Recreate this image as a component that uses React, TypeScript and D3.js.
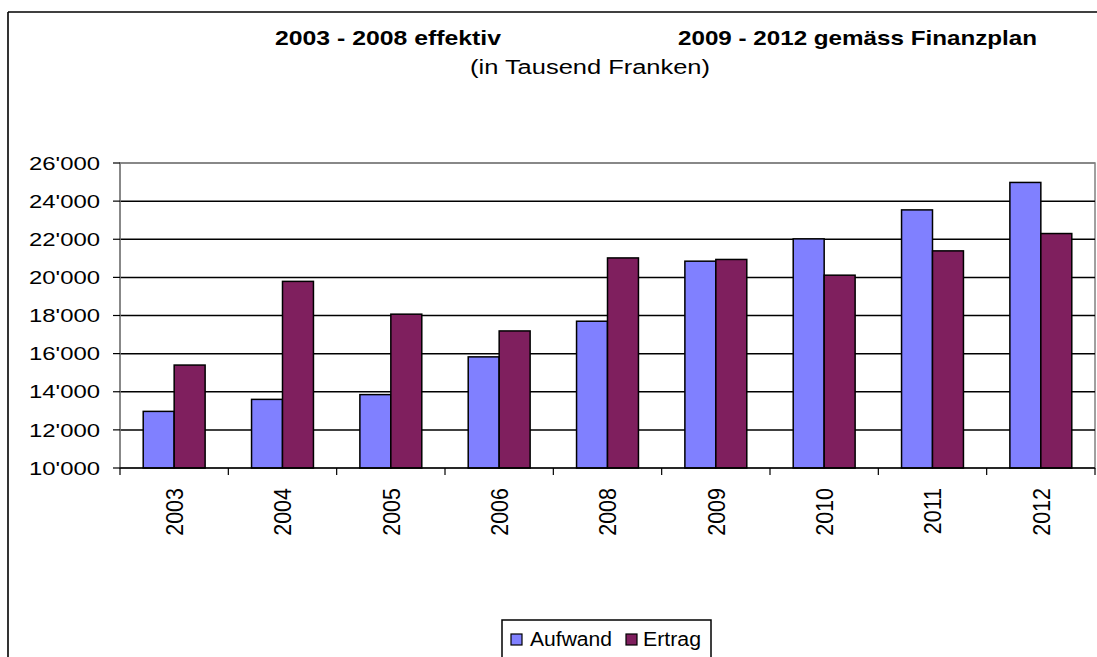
import React from "react";
import * as d3 from "d3";

const categories = ["2003", "2004", "2005", "2006", "2008", "2009", "2010", "2011", "2012"];
const seriesNames = ["Aufwand", "Ertrag"];
const aufwand = [12970, 13600, 13850, 15830, 17700, 20850, 22020, 23540, 24980];
const ertrag = [15400, 19790, 18070, 17190, 21020, 20940, 20115, 21390, 22300];
const yTicks = [10000, 12000, 14000, 16000, 18000, 20000, 22000, 24000, 26000];
const colors = ["#8080FF", "#7F1F5E"];

const W = 1097;
const H = 657;
const FONT = "'Liberation Sans', Arial, Helvetica, sans-serif";

export default function App() {
  const left = 120, right = 1095, top = 163, bottom = 468;
  const x0 = d3.scaleBand<string>().domain(categories).range([left, right]).paddingInner(0).paddingOuter(0);
  const x1 = d3.scaleBand<string>().domain(seriesNames).range([0, x0.bandwidth()]).paddingInner(0).paddingOuter(0.75);
  const y = d3.scaleLinear().domain([10000, 26000]).range([bottom, top]);
  const values = [aufwand, ertrag];
  const fmt = (v: number) => d3.format(",")(v).replace(/,/g, "'");

  return (
    <svg width={W} height={H} style={{ position: "absolute", left: 0, top: 0, background: "#fff" }} fontFamily={FONT}>
      <rect x={0} y={0} width={W} height={H} fill="#fff" />
      {/* outer chart border */}
      <line x1={8} y1={12} x2={W} y2={12} stroke="#000" strokeWidth={1.6} />
      <line x1={8} y1={12} x2={8} y2={H} stroke="#000" strokeWidth={1.6} />

      {/* titles */}
      <text x={275} y={45} fontSize={20.5} fontWeight="bold" textLength={226} lengthAdjust="spacingAndGlyphs">2003 - 2008 effektiv</text>
      <text x={678} y={45} fontSize={20.5} fontWeight="bold" textLength={359} lengthAdjust="spacingAndGlyphs">2009 - 2012 gemäss Finanzplan</text>
      <text x={470} y={74} fontSize={20} textLength={240} lengthAdjust="spacingAndGlyphs">(in Tausend Franken)</text>

      {/* plot area border */}
      <rect x={left} y={top} width={right - left} height={bottom - top} fill="none" stroke="#808080" strokeWidth={1.5} />

      {/* gridlines */}
      {yTicks.slice(1).map((t) => (
        <line key={t} x1={left} x2={right} y1={y(t)} y2={y(t)} stroke={t === 26000 ? "#808080" : "#000"} strokeWidth={1.5} />
      ))}

      {/* bars */}
      {categories.map((c, i) => (
        <g key={c} transform={`translate(${x0(c)},0)`}>
          {seriesNames.map((s, j) => (
            <rect
              key={s}
              x={x1(s)}
              y={y(values[j][i])}
              width={x1.bandwidth()}
              height={y(10000) - y(values[j][i])}
              fill={colors[j]}
              stroke="#000"
              strokeWidth={1.5}
            />
          ))}
        </g>
      ))}

      {/* axes */}
      <line x1={left} x2={left} y1={top} y2={bottom} stroke="#808080" strokeWidth={1.5} />
      <line x1={left} x2={right} y1={bottom} y2={bottom} stroke="#000" strokeWidth={1.5} />
      {yTicks.map((t) => (
        <g key={t}>
          <line x1={left - 7} x2={left} y1={y(t)} y2={y(t)} stroke="#000" strokeWidth={1.2} />
          <text x={100} y={y(t)} dy="0.36em" fontSize={18.6} textAnchor="end" textLength={71} lengthAdjust="spacingAndGlyphs">
            {fmt(t)}
          </text>
        </g>
      ))}
      {[...categories.map((c) => x0(c) as number), right].map((xv, i) => (
        <line key={i} x1={xv} x2={xv} y1={bottom} y2={bottom + 7} stroke="#000" strokeWidth={1.2} />
      ))}
      {categories.map((c) => {
        const cx = (x0(c) as number) + x0.bandwidth() / 2;
        return (
          <text
            key={c}
            transform={`translate(${cx},488) scale(1.15,1) rotate(-90)`}
            dy="0.36em"
            fontSize={21.5}
            textAnchor="end"
          >
            {c}
          </text>
        );
      })}

      {/* legend */}
      <rect x={502} y={620} width={209} height={60} fill="#fff" stroke="#000" strokeWidth={1.5} />
      <rect x={511} y={634} width={11} height={11} fill={colors[0]} stroke="#000" strokeWidth={1.2} />
      <text x={530} y={646} fontSize={19.5} textLength={82} lengthAdjust="spacingAndGlyphs">Aufwand</text>
      <rect x={626} y={634} width={11} height={11} fill={colors[1]} stroke="#000" strokeWidth={1.2} />
      <text x={643} y={646} fontSize={19.5} textLength={58} lengthAdjust="spacingAndGlyphs">Ertrag</text>
    </svg>
  );
}
